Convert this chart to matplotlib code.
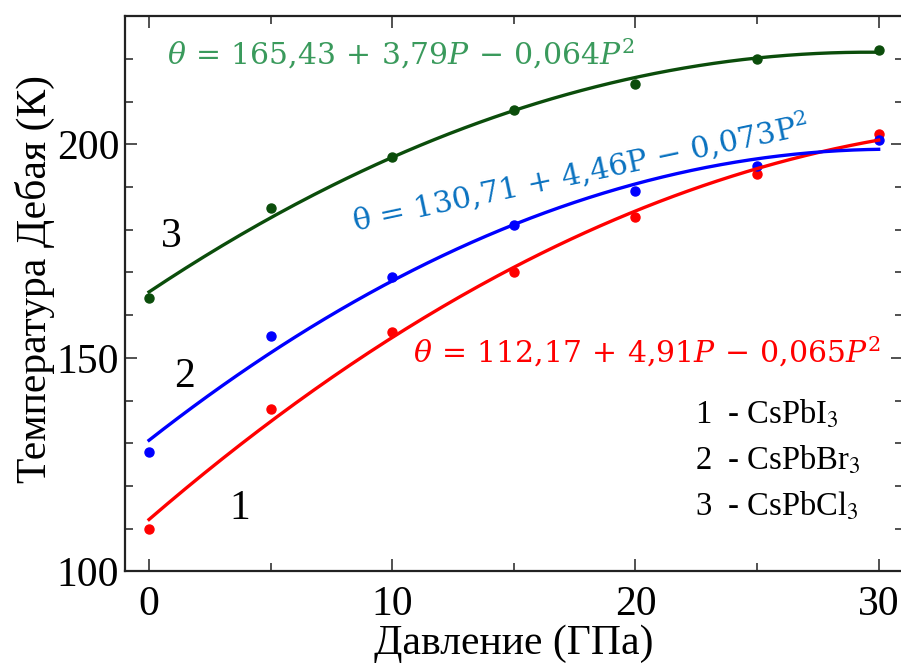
import numpy as np
import matplotlib
matplotlib.use("Agg")
import matplotlib.pyplot as plt
from matplotlib.ticker import MultipleLocator

plt.rcParams['font.family'] = ['Liberation Serif', 'DejaVu Serif']
plt.rcParams['mathtext.fontset'] = 'stix'

# pressure points (GPa)
pressure = [0, 5, 10, 15, 20, 25, 30]

# Debye temperature (K)
theta_I = [110, 138, 156, 170, 183, 193, 202.5]     # 1 - CsPbI3
theta_Br = [128, 155, 169, 181, 189, 195, 201]      # 2 - CsPbBr3
theta_Cl = [164, 185, 197, 208, 214, 220, 222]      # 3 - CsPbCl3

# fit coefficients shown on the chart: a + b*P + c*P^2
fit_I = [112.17, 4.91, -0.065]
fit_Br = [130.71, 4.46, -0.073]
fit_Cl = [165.43, 3.79, -0.064]

labels = ['1  - CsPbI$_3$', '2  - CsPbBr$_3$', '3  - CsPbCl$_3$']

fig = plt.figure(figsize=(9.01, 6.66), dpi=100)
ax = fig.add_axes([0.1384, 0.1419, 0.8638, 0.834])

P = np.linspace(0, 30, 200)

def poly(c, x):
    return c[0] + c[1] * x + c[2] * x ** 2

series = [
    (theta_I, fit_I, '#ff0000'),
    (theta_Br, fit_Br, '#0000ff'),
    (theta_Cl, fit_Cl, '#0b4d0b'),
]
for vals, coef, col in series:
    ax.plot(pressure, vals, 'o', color=col, ms=6.5, zorder=2)
    ax.plot(P, poly(coef, P), '-', color=col, lw=2.4, zorder=3)

ax.set_xlim(-1, 31)
ax.set_ylim(100, 230)
ax.xaxis.set_major_locator(MultipleLocator(10))
ax.xaxis.set_minor_locator(MultipleLocator(5))
ax.yaxis.set_major_locator(MultipleLocator(50))
ax.yaxis.set_minor_locator(MultipleLocator(10))
ax.tick_params(which='both', direction='in', top=True, right=True,
               labelsize=30, width=1.2, color='#333333')
ax.tick_params(which='major', length=8.5)
ax.tick_params(which='minor', length=6)
ax.tick_params(axis='x', pad=10)
ax.tick_params(axis='y', pad=4)
for s in ax.spines.values():
    s.set_linewidth(1.6)
    s.set_color('#222222')

ax.set_xlabel('Давление (ГПа)', fontsize=30, va='center')
ax.xaxis.set_label_coords(0.5, -0.13)
ax.set_ylabel('Температура Дебая (К)', fontsize=30, va='center')
ax.yaxis.set_label_coords(-0.115, 0.526)

# curve numbers
ax.text(0.93, 178.3, '3', fontsize=30, ha='center', va='center')
ax.text(1.47, 145.5, '2', fontsize=30, ha='center', va='center')
ax.text(3.73, 114.8, '1', fontsize=30, ha='center', va='center')

# fit formulas
ax.text(0.75, 218.6, r'$\theta\,=\,165{,}43\,+\,3{,}79P\,-\,0{,}064P^2$',
        fontsize=21.5, color='#3a9a5c', ha='left', va='baseline',
        math_fontfamily='dejavuserif')
ax.text(8.45, 179.5, 'θ = 130,71 + 4,46P − 0,073P$^2$',
        fontsize=21.8, color='#0a72c0', ha='left', va='baseline',
        family='DejaVu Serif', math_fontfamily='dejavuserif',
        rotation=12, rotation_mode='anchor')
ax.text(10.84, 148.8, r'$\theta\,=\,112{,}17\,+\,4{,}91P\,-\,0{,}065P^2$',
        fontsize=21.5, color='#ff0000', ha='left', va='baseline',
        math_fontfamily='dejavuserif')

# legend text
for lab, yy in zip(labels, [134.7, 123.9, 113.2]):
    ax.text(22.43, yy, lab, fontsize=23.5, ha='left', va='baseline')

fig.savefig('out.png', dpi=100)
